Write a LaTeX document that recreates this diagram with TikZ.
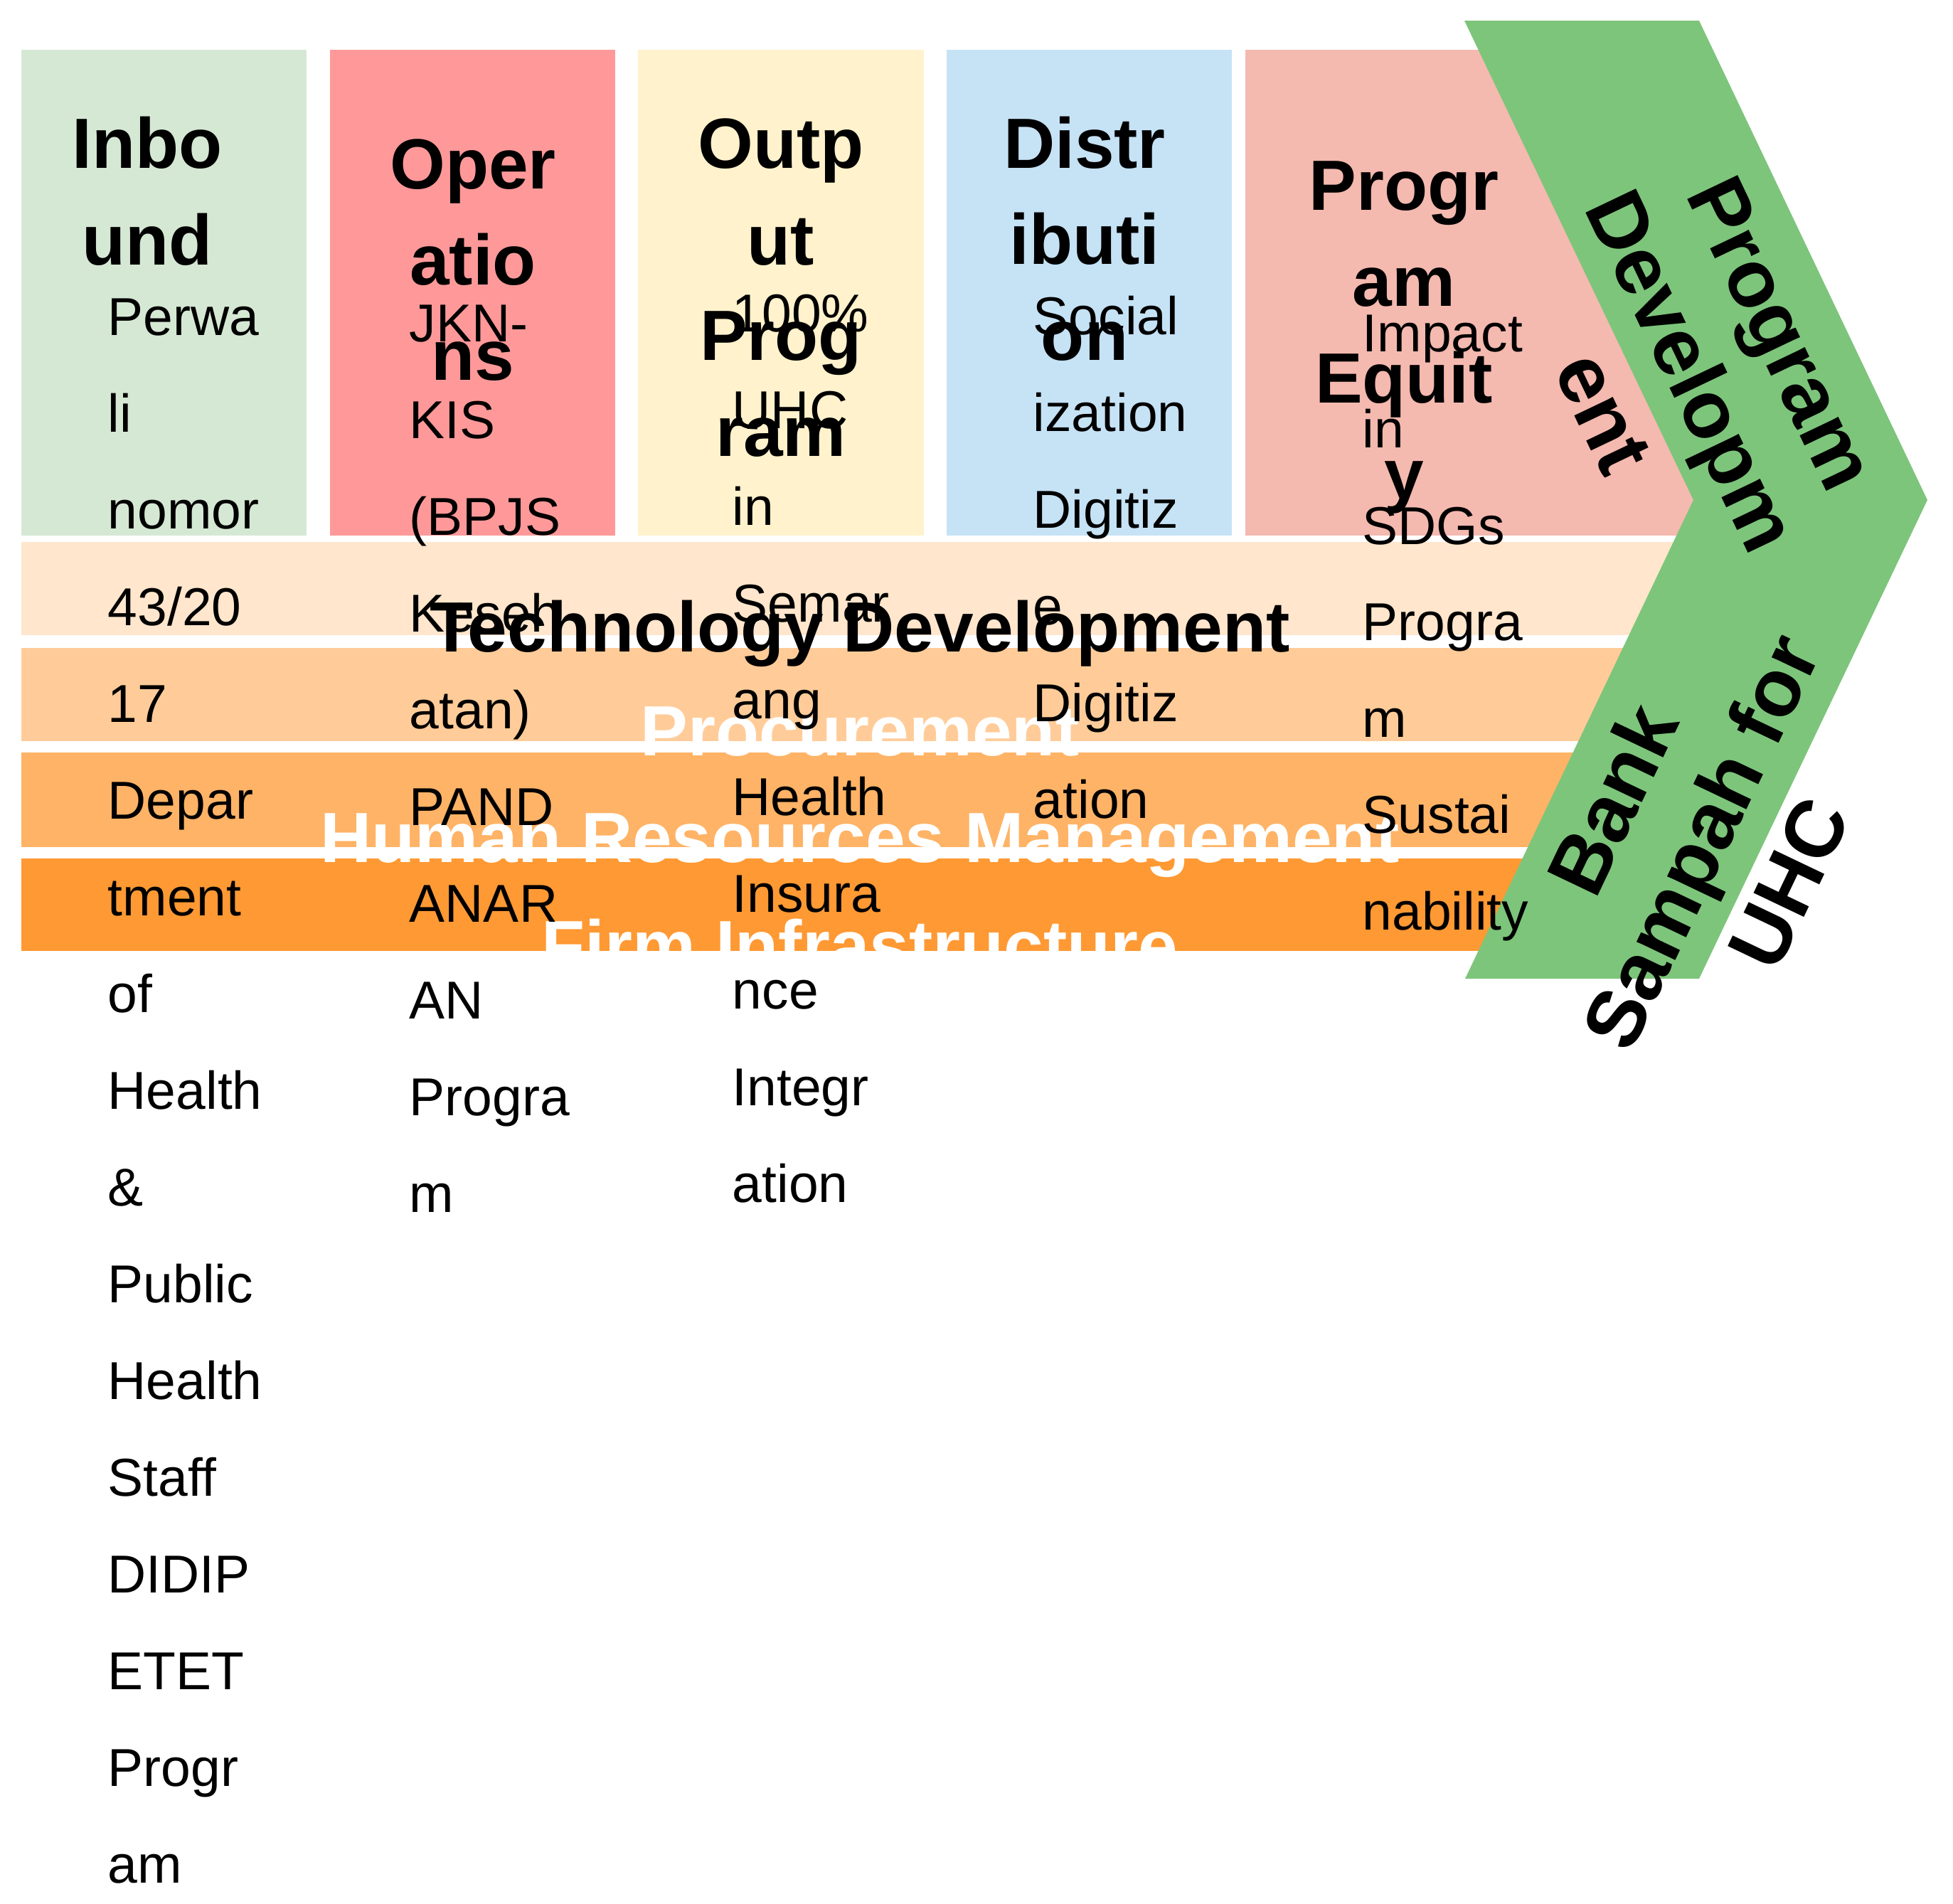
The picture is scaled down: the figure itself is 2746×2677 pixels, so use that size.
\documentclass[tikz,border=0pt]{standalone}
\usepackage{fontspec}
\setmainfont{Liberation Sans}
\definecolor{cIn}{HTML}{D5E8D4}
\definecolor{cOp}{HTML}{FF9999}
\definecolor{cOut}{HTML}{FFF2CC}
\definecolor{cDist}{HTML}{C6E2F5}
\definecolor{cEq}{HTML}{F4B9AF}
\definecolor{cTech}{HTML}{FFE6CC}
\definecolor{cProc}{HTML}{FFCC99}
\definecolor{cHR}{HTML}{FFB366}
\definecolor{cFirm}{HTML}{FF9933}
\definecolor{cChev}{HTML}{7DC57B}
\begin{document}
\begin{tikzpicture}[x=0.25pt,y=-0.25pt,
  ttl/.style={font=\bfseries\fontsize{25}{30}\selectfont, inner sep=0pt, anchor=base},
  bodytxt/.style={font=\fontsize{18.75}{22}\selectfont, inner sep=0pt, anchor=base west},
  bandlbl/.style={font=\bfseries\fontsize{25}{30}\selectfont, inner sep=0pt, anchor=base},
  chevlbl/.style={font=\bfseries\fontsize{28.5}{34}\selectfont, inner sep=0pt, anchor=base}]
\useasboundingbox (0,0) rectangle (2746,2677);
\fill[white] (0,0) rectangle (2746,2677);
% primary activity boxes
\fill[cIn]   (30,70) rectangle (431,753);
\fill[cOp]   (464,70) rectangle (865,753);
\fill[cOut]  (897,70) rectangle (1299,753);
\fill[cDist] (1331,70) rectangle (1732,753);
\fill[cEq]   (1751,70) rectangle (2400,753);
% support bands
\fill[cTech] (30,762) rectangle (2360,893);
\fill[cProc] (30,911) rectangle (2360,1042);
\fill[cHR]   (30,1058) rectangle (2360,1191);
\fill[cFirm] (30,1207) rectangle (2360,1337);
% chevron
\fill[cChev] (2059,29) -- (2389,29) -- (2710,703) -- (2389,1376) -- (2060,1376) -- (2381,703) -- cycle;
% band labels
\node[bandlbl, text=black] (tech) at (1209,916) {Technology Development};
\node[bandlbl, text=white] (proc) at (1209,1062) {Procurement};
\node[bandlbl, text=white] (hrm) at (1209,1212) {Human Resources Management};
\node[bandlbl, text=white] (firm) at (1209,1364) {Firm Infrastructure};
% titles
\node[ttl] (tin1) at (207,237) {Inbo};
\node[ttl] (tin2) at (207,372) {und};
\node[ttl] (top1) at (665,266) {Oper};
\node[ttl] (top2) at (665,400) {atio};
\node[ttl] (top3) at (665,534) {ns};
\node[ttl] (tou1) at (1098,237) {Outp};
\node[ttl] (tou2) at (1098,372) {ut};
\node[ttl] (tou3) at (1098,506) {Prog};
\node[ttl] (tou4) at (1098,641) {ram};
\node[ttl] (tdi1) at (1525,236) {Distr};
\node[ttl] (tdi2) at (1525,371) {ibuti};
\node[ttl] (tdi3) at (1525,506) {on};
\node[ttl] (teq1) at (1974,295) {Progr};
\node[ttl] (teq2) at (1974,430) {am};
\node[ttl] (teq3) at (1974,566) {Equit};
\node[ttl] (teq4) at (1974,701) {y};
% body texts
\foreach \t [count=\i from 0] in {Perwa,li,nomor,43/20,17,Depar,tment,of,Health,{\&},Public,Health,Staff,DIDIP,ETET,Progr,am}
  \node[bodytxt] (bin\i) at (151,471+136*\i) {\t};
\foreach \t [count=\i from 0] in {JKN-,KIS,{(BPJS},Keseh,{atan)},PAND,ANAR,AN,Progra,m}
  \node[bodytxt] (bop\i) at (575,480+136*\i) {\t};
\foreach \t [count=\i from 0] in {{100\%},UHC,in,Semar,ang,Health,Insura,nce,Integr,ation}
  \node[bodytxt] (bou\i) at (1029,466+136*\i) {\t};
\foreach \t [count=\i from 0] in {Social,ization,Digitiz,e,Digitiz,ation}
  \node[bodytxt] (bdi\i) at (1452,470+136*\i) {\t};
\foreach \t [count=\i from 0] in {Impact,in,SDGs,Progra,m,Sustai,nability}
  \node[bodytxt] (beq\i) at (1915,494+135.5*\i) {\t};
% chevron labels
\node[chevlbl, rotate=-64.5] (cu1) at (2470,485) {Program};
\node[chevlbl, rotate=-64.5] (cu2) at (2344,538) {Developm};
\node[chevlbl, rotate=-64.5] (cu3) at (2220,597) {ent};
\node[chevlbl, rotate=64.5] (cl1) at (2303,1141) {Bank};
\node[chevlbl, rotate=64.5] (cl2) at (2427,1200) {Sampah for};
\node[chevlbl, rotate=64.5] (cl3) at (2551,1259) {UHC};
\end{tikzpicture}
\end{document}
